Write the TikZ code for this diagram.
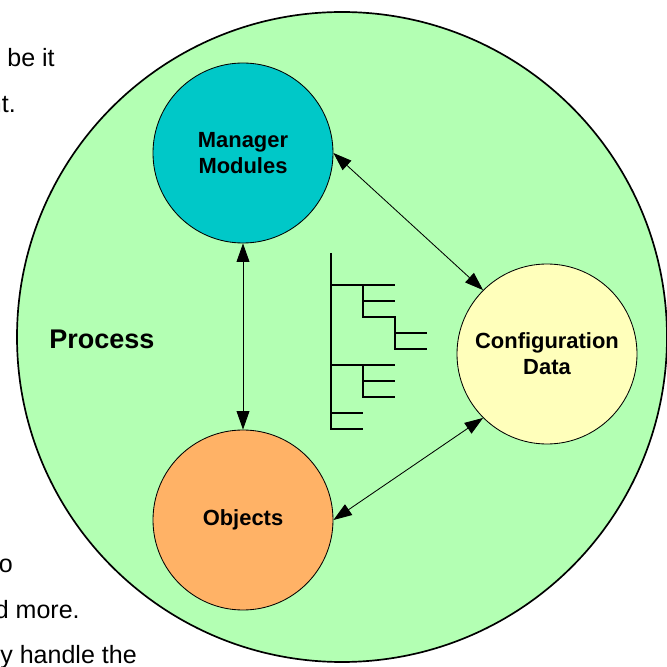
\documentclass[tikz,border=0pt]{standalone}
\usepackage{fontspec}
\setmainfont{Liberation Sans}
\definecolor{proc_green}{RGB}{179, 255, 179}
\definecolor{mod_teal}{RGB}{0, 200, 200}
\definecolor{obj_orange}{RGB}{255, 178, 102}
\definecolor{conf_yellow}{RGB}{255, 255, 187}
\usetikzlibrary{arrows.meta}
\tikzset{
  part/.style={circle, draw, line width=0.6pt, minimum size=4.5cm, inner sep=0pt,
               align=center, font=\fontsize{15.6}{18.5}\selectfont\bfseries},
  link/.style={{Triangle[length=4.6mm, width=3.2mm]}-{Triangle[length=4.6mm, width=3.2mm]},
               line width=0.6pt},
  para/.style={anchor=base east, inner sep=0pt, font=\fontsize{17.8}{20}\selectfont}
}

\begin{document}
\begin{tikzpicture}
  \path[use as bounding box, clip] (0,0) rectangle (16.675,16.675);

  % running text around the figure
  \node[para] (txta) at (1.375,15.0)  {be it};
  \node[para] (txtb) at (0.4,13.85)   {nt.};
  \node[para] (txtc) at (0.325,2.35)  {o};
  \node[para] (txtd) at (2.0,1.2)     {d more.};
  \node[para] (txte) at (3.425,0.075) {y handle the};

  % the process
  \node[circle, draw, line width=1.2pt, fill=proc_green, minimum size=16.25cm,
        inner sep=0pt] (proc) at (8.55,8.25) {};
  \node[font=\fontsize{19.2}{22}\selectfont\bfseries] (proclabel) at (2.55,8.2) {Process};

  \node[part, fill=mod_teal]    (mm)  at (6.075,12.85) {Manager\\Modules};
  \node[part, fill=obj_orange]  (obj) at (6.075,3.675) {Objects};
  \node[part, fill=conf_yellow] (cd)  at (13.675,7.825) {Configuration\\Data};

  \draw[link] (mm.east) -- (cd.north west);
  \draw[link] (mm.south) -- (obj.north);
  \draw[link] (obj.east) -- (cd.south west);

  % tree of configuration entries
  \begin{scope}[shift={(8.275cm,9.55cm)}, x=0.8cm, y=0.4cm, line width=1.3pt]
    \draw (0,2) -- (0,-9) -- (1,-9);
    \draw (0,-8) -- (1,-8);
    \draw (0,0) -- (2,0);
    \draw (1,0) -- (1,-2) -- (2,-2) -- (2,-4) -- (3,-4);
    \draw (1,-1) -- (2,-1);
    \draw (2,-3) -- (3,-3);
    \draw (0,-5) -- (2,-5);
    \draw (1,-5) -- (1,-7) -- (2,-7);
    \draw (1,-6) -- (2,-6);
  \end{scope}
\end{tikzpicture}
\end{document}
